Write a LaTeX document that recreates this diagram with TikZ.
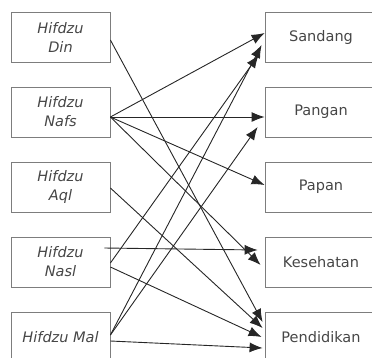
\documentclass[tikz,border=0pt]{standalone}
\usepackage{fontspec}
\setmainfont{DejaVu Sans}
\usetikzlibrary{arrows.meta}
\definecolor{boxgray}{RGB}{125,125,125}
\definecolor{textgray}{RGB}{70,70,70}

\begin{document}
\begin{tikzpicture}[x=1pt, y=-1pt]

        % Styles
        \tikzset{
            maqasid/.style={draw=boxgray, line width=0.8pt, minimum width=99pt, minimum height=50pt, inner sep=0pt, align=center, text=textgray, font=\fontsize{14.5}{19}\selectfont\itshape},
            need/.style={draw=boxgray, line width=0.8pt, minimum width=112pt, minimum height=50pt, inner sep=0pt, align=center, text=textgray, font=\fontsize{14.5}{19}\selectfont},
            arrow/.style={-{Latex[length=13pt, width=10pt]}, line width=0.9pt, draw=black!85}
        }

        \useasboundingbox (0,0) rectangle (372,357);
        \clip (0,0) rectangle (372,357);

        % --- MAQASID (Gauche) ---
        \node[maqasid] (din) at (60.5, 37) {Hifdzu\\Din};
        \node[maqasid] (nafs) at (60.5, 112) {Hifdzu\\Nafs};
        \node[maqasid] (aql) at (60.5, 187) {Hifdzu\\Aql};
        \node[maqasid] (nasl) at (60.5, 262) {Hifdzu\\Nasl};
        \node[maqasid] (mal) at (60.5, 337) {Hifdzu Mal};

        % --- KEBUTUHAN (Droite) ---
        \node[need] (sandang) at (321, 37) {Sandang};
        \node[need] (pangan) at (321, 112) {Pangan};
        \node[need] (papan) at (321, 187) {Papan};
        \node[need] (kesehatan) at (321, 262) {Kesehatan};
        \node[need] (pendidikan) at (321, 337) {Pendidikan};

        % --- CONNEXIONS ---
        % Din
        \draw[arrow] ([yshift=-3pt]din.east) -- ([xshift=-2pt, yshift=15pt]pendidikan.west);

        % Nafs
        \draw[arrow] ([yshift=-5pt]nafs.east) -- ([yshift=4pt]sandang.west);
        \draw[arrow] ([yshift=-5pt]nafs.east) -- ([yshift=-5pt]pangan.west);
        \draw[arrow] ([yshift=-5pt]nafs.east) -- ([yshift=2pt]papan.west);
        \draw[arrow] ([yshift=-5pt]nafs.east) -- ([xshift=-4pt, yshift=-3pt]kesehatan.west);

        % Aql
        \draw[arrow] ([yshift=-1pt]aql.east) -- ([xshift=-2pt, yshift=9pt]pendidikan.west);

        % Nasl
        \draw[arrow] ([xshift=-6pt, yshift=14pt]nasl.east) -- ([xshift=-7pt, yshift=12pt]kesehatan.west);
        \draw[arrow] ([yshift=-5pt]nasl.east) -- ([xshift=-3pt]pendidikan.west);
        \draw[arrow] ([yshift=-1pt]nasl.east) -- ([xshift=-6pt, yshift=-18pt]sandang.west);

        % Mal
        \draw[arrow] ([yshift=2pt]mal.east) -- ([xshift=-3pt, yshift=-8pt]sandang.west);
        \draw[arrow] ([yshift=2pt]mal.east) -- ([xshift=-7pt, yshift=-15pt]pangan.west);
        \draw[arrow] ([yshift=-4pt]mal.east) -- ([xshift=-2pt, yshift=-11pt]pendidikan.west);

\end{tikzpicture}
\end{document}
